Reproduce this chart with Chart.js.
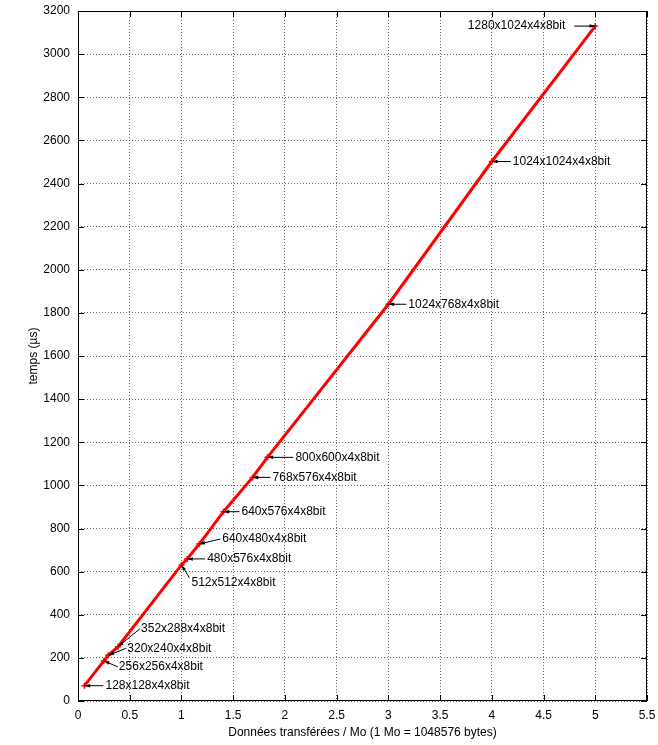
<!DOCTYPE html>
<html>
<head>
<meta charset="utf-8">
<script src="https://cdn.jsdelivr.net/npm/chart.js@4"></script>
<style>
    html, body { margin: 0; padding: 0; background: #fff; }
    canvas { display: block; }
</style>
</head>
<body>
<canvas id="tempsChart" width="658" height="745"></canvas>
<script>
// Résolutions testées (ordre croissant de taille)
const resolutions = ['128x128x4x8bit', '256x256x4x8bit', '320x240x4x8bit', '352x288x4x8bit',
    '512x512x4x8bit', '480x576x4x8bit', '640x480x4x8bit', '640x576x4x8bit', '768x576x4x8bit',
    '800x600x4x8bit', '1024x768x4x8bit', '1024x1024x4x8bit', '1280x1024x4x8bit'];
// Données transférées en Mo
const donnees = [0.0625, 0.25, 0.293, 0.387, 1.0, 1.055, 1.172, 1.406, 1.6875, 1.831, 3.0, 4.0, 5.0];
// Temps mesurés en µs
const temps = [71, 186, 212, 252, 631, 659, 728, 878, 1037, 1130, 1840, 2502, 3130];

const xTicks = [0, 0.5, 1, 1.5, 2, 2.5, 3, 3.5, 4, 4.5, 5, 5.5];
const yTicks = [0, 200, 400, 600, 800, 1000, 1200, 1400, 1600, 1800, 2000, 2200, 2400, 2600, 2800, 3000, 3200];

// placement des étiquettes (décalage en pixels depuis le point) : [texteX, texteY, flecheX, flecheY]
const placement = [
    [21, 0, 19, 0], [15, 6, 14, 6], [19, -7, 18, -7], [23, -18, 22, -18],
    [10, 18, 8, 13], [20, 0, 18, 0], [23, -5, 21, -5], [18, 0, 16, 0],
    [20, 0, 18, 0], [28, 0, 26, 0], [20, 0, 18, 0], [21, 0, 19, 0], [-30, 0, -21, 0]
];

Chart.defaults.font.family = '"Liberation Sans", Arial, sans-serif';
Chart.defaults.font.size = 12;
Chart.defaults.color = '#000';

// pas de marge automatique autour des axes
function sansMarge(s) {
    s.paddingLeft = 0; s.paddingRight = 0;
    s.paddingTop = 0; s.paddingBottom = 0;
}

// cadre noir + graduations vers l'intérieur
const cadre = {
    id: 'cadre',
    afterDraw(chart) {
        const ctx = chart.ctx;
        const a = chart.chartArea;
        const sx = chart.scales.x, sy = chart.scales.y;
        ctx.save();
        ctx.strokeStyle = '#000';
        ctx.lineWidth = 1;
        ctx.strokeRect(Math.round(a.left) + 0.5, Math.round(a.top) + 0.5,
            Math.round(a.right - a.left) - 1, Math.round(a.bottom - a.top) - 1);
        ctx.beginPath();
        xTicks.forEach(v => {
            const px = Math.round(sx.getPixelForValue(v)) + 0.5;
            ctx.moveTo(px, a.bottom); ctx.lineTo(px, a.bottom - 6);
            ctx.moveTo(px, a.top); ctx.lineTo(px, a.top + 6);
        });
        yTicks.forEach(v => {
            const py = Math.round(sy.getPixelForValue(v)) + 0.5;
            ctx.moveTo(a.left, py); ctx.lineTo(a.left + 6, py);
            ctx.moveTo(a.right, py); ctx.lineTo(a.right - 6, py);
        });
        ctx.stroke();
        ctx.restore();
    }
};

// étiquettes avec flèches
const etiquettes = {
    id: 'etiquettes',
    afterDatasetsDraw(chart) {
        const ctx = chart.ctx;
        const pts = chart.getDatasetMeta(0).data;
        ctx.save();
        ctx.font = '12px "Liberation Sans", Arial, sans-serif';
        ctx.fillStyle = '#000';
        ctx.strokeStyle = '#000';
        ctx.lineWidth = 1;
        ctx.textBaseline = 'middle';
        pts.forEach((p, i) => {
            const [tx, ty, fx, fy] = placement[i];
            const x0 = p.x + fx, y0 = p.y + fy;
            const ang = Math.atan2(p.y - y0, p.x - x0);
            ctx.beginPath();
            ctx.moveTo(x0, y0);
            ctx.lineTo(p.x, p.y);
            ctx.stroke();
            ctx.beginPath();
            ctx.moveTo(p.x, p.y);
            ctx.lineTo(p.x - 6 * Math.cos(ang - 0.3), p.y - 6 * Math.sin(ang - 0.3));
            ctx.lineTo(p.x - 6 * Math.cos(ang + 0.3), p.y - 6 * Math.sin(ang + 0.3));
            ctx.closePath();
            ctx.fill();
            ctx.textAlign = tx < 0 ? 'right' : 'left';
            ctx.fillText(resolutions[i], p.x + tx, p.y + ty);
        });
        ctx.restore();
    }
};

const ctxTemps = document.getElementById('tempsChart').getContext('2d');
new Chart(ctxTemps, {
    type: 'scatter',
    data: {
        datasets: [{
            label: 'temps',
            data: donnees.map((d, i) => ({ x: d, y: temps[i] })),
            showLine: true,
            borderColor: '#ff0000',
            borderWidth: 3,
            pointStyle: 'cross',
            pointRadius: 3,
            pointBorderWidth: 1.5,
            pointBorderColor: '#ff0000',
            pointBackgroundColor: '#ff0000'
        }]
    },
    options: {
        responsive: false,
        animation: false,
        layout: { padding: { top: 11, right: 11, left: 0, bottom: 0 } },
        plugins: {
            legend: { display: false },
            tooltip: { enabled: false }
        },
        scales: {
            x: {
                type: 'linear',
                min: 0,
                max: 5.5,
                afterBuildTicks: s => { s.ticks = xTicks.map(v => ({ value: v })); },
                afterFit: s => { s.height = 44; sansMarge(s); },
                ticks: { padding: 7, callback: v => String(v) },
                grid: { color: '#666', drawTicks: false },
                border: { display: false, dash: [1, 2] },
                title: {
                    display: true,
                    text: 'Données transférées / Mo (1 Mo = 1048576 bytes)',
                    padding: { bottom: 5 }
                }
            },
            y: {
                type: 'linear',
                min: 0,
                max: 3200,
                afterBuildTicks: s => { s.ticks = yTicks.map(v => ({ value: v })); },
                afterFit: s => { s.width = 78; sansMarge(s); },
                ticks: { padding: 8, callback: v => String(v) },
                grid: { color: '#666', drawTicks: false },
                border: { display: false, dash: [1, 2] },
                title: {
                    display: true,
                    text: 'temps (µs)',
                    padding: { top: 26 }
                }
            }
        }
    },
    plugins: [cadre, etiquettes]
});
</script>
</body>
</html>
